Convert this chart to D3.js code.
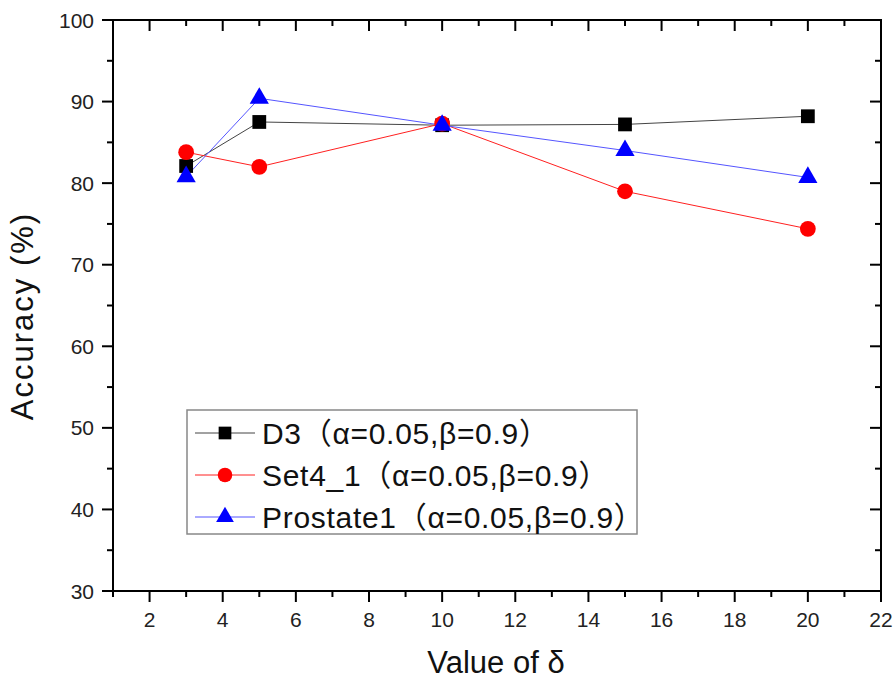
<!DOCTYPE html>
<html><head><meta charset="utf-8">
<script src="https://cdn.jsdelivr.net/npm/d3@7"></script>
<style>body{margin:0;background:#fff}svg{display:block}</style>
</head><body>
<svg id="c" width="896" height="679"></svg>
<script>
const xValues = [3, 5, 10, 15, 20];
const d3Series = [82.1, 87.5, 87.1, 87.2, 88.2];
const set4Series = [83.8, 82.0, 87.3, 79.0, 74.4];
const prostateSeries = [80.8, 90.4, 87.1, 84.0, 80.7];
const seriesNames = ["D3（α=0.05,β=0.9）", "Set4_1（α=0.05,β=0.9）", "Prostate1（α=0.05,β=0.9）"];
const xTicks = [2,4,6,8,10,12,14,16,18,20,22];
const yTicks = [30,40,50,60,70,80,90,100];
const xTitle = "Value of δ";
const yTitle = "Accuracy (%)";

const svg = d3.select("#c");
const L = 113, R = 881, T = 20, B = 591;
const x = d3.scaleLinear().domain([1, 22]).range([L, R]);
const y = d3.scaleLinear().domain([30, 100]).range([B, T]);
const font = "'Liberation Sans', Arial, 'Noto Sans CJK SC', sans-serif";

const series = [
  {name: seriesNames[0], vals: d3Series, color: "#000", line: "#444", sym: d3.symbolSquare, size: 190},
  {name: seriesNames[1], vals: set4Series, color: "#ff0000", line: "#ff2020", sym: d3.symbolCircle, size: 195},
  {name: seriesNames[2], vals: prostateSeries, color: "#0000ff", line: "#5555ff", sym: d3.symbolTriangle, size: 160}
];

const minorX = d3.range(1, 23, 1);
const minorY = d3.range(30, 101, 5);
const g = svg.append("g");
g.append("rect").attr("x", L).attr("y", T).attr("width", R-L).attr("height", B-T)
  .attr("fill", "none").attr("stroke", "#000").attr("stroke-width", 2);

minorX.forEach(v => {
  const major = v % 2 === 0;
  const len = major ? 11 : 6;
  g.append("line").attr("x1", x(v)).attr("x2", x(v)).attr("y1", B).attr("y2", B + len).attr("stroke", "#000").attr("stroke-width", 2);
  g.append("line").attr("x1", x(v)).attr("x2", x(v)).attr("y1", T).attr("y2", T + len).attr("stroke", "#000").attr("stroke-width", 2);
});
minorY.forEach(v => {
  const major = v % 10 === 0;
  const len = major ? 11 : 6;
  g.append("line").attr("x1", L - len).attr("x2", L).attr("y1", y(v)).attr("y2", y(v)).attr("stroke", "#000").attr("stroke-width", 2);
  g.append("line").attr("x1", R - len).attr("x2", R).attr("y1", y(v)).attr("y2", y(v)).attr("stroke", "#000").attr("stroke-width", 2);
});

g.selectAll(".xl").data(xTicks).enter().append("text")
  .attr("x", d => x(d)).attr("y", 627).attr("text-anchor", "middle")
  .attr("font-family", font).attr("font-size", 21).attr("fill", "#222").text(d => d);
g.selectAll(".yl").data(yTicks).enter().append("text")
  .attr("x", 94).attr("y", d => y(d) + 7.5).attr("text-anchor", "end")
  .attr("font-family", font).attr("font-size", 21).attr("fill", "#222").text(d => d);

svg.append("text").attr("x", 496).attr("y", 673).attr("text-anchor", "middle")
  .attr("font-family", font).attr("font-size", 31).attr("fill", "#111").text(xTitle);
svg.append("text").attr("transform", "translate(33,316) rotate(-90)").attr("text-anchor", "middle")
  .attr("font-family", font).attr("font-size", 31).attr("letter-spacing", 2).attr("fill", "#111").text(yTitle);

const lineGen = d3.line().x((d, i) => x(xValues[i])).y(d => y(d));
series.forEach(s => {
  svg.append("path").attr("d", lineGen(s.vals)).attr("fill", "none").attr("stroke", s.line).attr("stroke-width", 1);
});
series.forEach(s => {
  svg.selectAll(null).data(s.vals).enter().append("path")
    .attr("d", d3.symbol().type(s.sym).size(s.size))
    .attr("transform", (d, i) => `translate(${x(xValues[i])},${y(d)})`)
    .attr("fill", s.color);
});

const lg = svg.append("g");
lg.append("rect").attr("x", 187).attr("y", 410).attr("width", 450).attr("height", 124)
  .attr("fill", "#fff").attr("stroke", "#888").attr("stroke-width", 1.5);
const rowY = [433, 475, 517];
series.forEach((s, i) => {
  lg.append("line").attr("x1", 195).attr("x2", 255).attr("y1", rowY[i]).attr("y2", rowY[i]).attr("stroke", s.line).attr("stroke-width", 1);
  lg.append("path").attr("d", d3.symbol().type(s.sym).size(s.size * 0.85)).attr("transform", `translate(225,${rowY[i]})`).attr("fill", s.color);
  lg.append("text").attr("x", 262).attr("y", rowY[i] + 11).attr("font-family", font).attr("font-size", 30).attr("letter-spacing", 0.7).attr("fill", "#111").text(s.name);
});
</script>
</body></html>
